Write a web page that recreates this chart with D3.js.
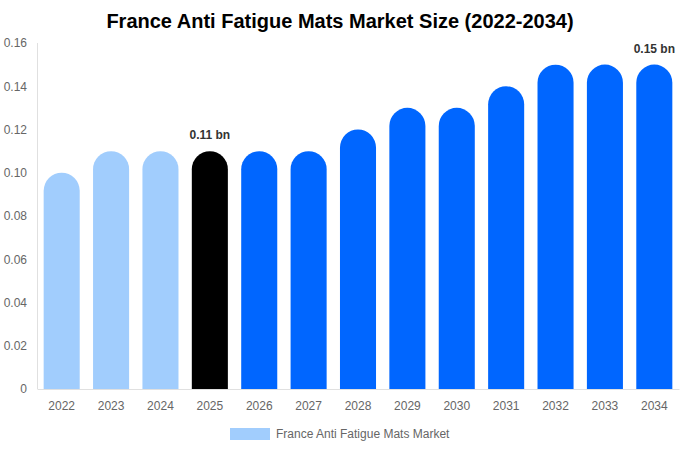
<!DOCTYPE html>
<html>
<head>
<meta charset="utf-8">
<script src="https://cdn.jsdelivr.net/npm/d3@7"></script>
<style>
  body { margin: 0; background: #fff; }
  svg { display: block; font-family: "Liberation Sans", Arial, sans-serif; }
</style>
</head>
<body>
<svg id="chart" width="680" height="450"></svg>
<script>
// chart data
const years = ['2022', '2023', '2024', '2025', '2026', '2027', '2028', '2029', '2030', '2031', '2032', '2033', '2034'];
const values = [0.10, 0.11, 0.11, 0.11, 0.11, 0.11, 0.12, 0.13, 0.13, 0.14, 0.15, 0.15, 0.15];
const yTicks = [0, 0.02, 0.04, 0.06, 0.08, 0.10, 0.12, 0.14, 0.16];
const labelled = { '2025': '0.11 bn', '2034': '0.15 bn' };
const seriesName = 'France Anti Fatigue Mats Market';

const margin = { top: 43, right: 1, bottom: 61, left: 37 };
const svg = d3.select('#chart');
const width = +svg.attr('width') - margin.left - margin.right;
const height = +svg.attr('height') - margin.top - margin.bottom;

// colour by period: history, current year, forecast
const colorFor = (y) => (+y < 2025 ? '#a1cdfd' : +y === 2025 ? '#000000' : '#0066ff');

const x = d3.scaleBand().domain(years).range([0, width]).paddingInner(0.27).paddingOuter(0.135);
const y = d3.scaleLinear().domain([0, 0.16]).range([height, 0]);

svg.append('text')
  .attr('x', 340)
  .attr('y', 28)
  .attr('text-anchor', 'middle')
  .attr('font-size', 20)
  .attr('font-weight', 'bold')
  .attr('fill', '#000')
  .text('France Anti Fatigue Mats Market Size (2022-2034)');

const chart = svg.append('g').attr('transform', `translate(${margin.left},${margin.top})`);

// y axis labels only, plus a thin left line
const yAxis = chart.append('g')
  .call(d3.axisLeft(y).tickValues(yTicks).tickSize(0).tickPadding(10)
    .tickFormat((d) => (d === 0 ? '0' : d3.format('.2f')(d))));
yAxis.select('.domain').remove();
yAxis.selectAll('text').attr('font-size', 12).attr('fill', '#666').attr('font-family', '"Liberation Sans", Arial, sans-serif');

chart.append('line')
  .attr('x1', 0.5).attr('x2', 0.5)
  .attr('y1', 0).attr('y2', height)
  .attr('stroke', '#e0e0e0');

const xAxis = chart.append('g')
  .attr('transform', `translate(0,${height})`)
  .call(d3.axisBottom(x).tickSize(0).tickPadding(12));
xAxis.select('.domain').attr('stroke', '#e0e0e0');
xAxis.selectAll('text').attr('font-size', 12).attr('fill', '#666').attr('font-family', '"Liberation Sans", Arial, sans-serif');

// bars with fully rounded tops
const bw = x.bandwidth();
const r = bw / 2;
chart.selectAll('path.bar')
  .data(years.map((yr, i) => ({ yr, v: values[i] })))
  .enter()
  .append('path')
  .attr('class', 'bar')
  .attr('fill', (d) => colorFor(d.yr))
  .attr('d', (d) => {
    const x0 = x(d.yr);
    const top = y(d.v);
    const base = y(0);
    return `M${x0},${base} V${top + r} A${r},${r} 0 0 1 ${x0 + bw},${top + r} V${base} Z`;
  });

chart.selectAll('text.val')
  .data(years.filter((yr) => labelled[yr]))
  .enter()
  .append('text')
  .attr('class', 'val')
  .attr('x', (d) => x(d) + bw / 2)
  .attr('y', (d) => y(values[years.indexOf(d)]) - 12)
  .attr('text-anchor', 'middle')
  .attr('font-size', 12)
  .attr('font-weight', 'bold')
  .attr('fill', '#333')
  .text((d) => labelled[d]);

// legend
const legend = svg.append('g').attr('transform', 'translate(230,428)');
legend.append('rect').attr('width', 40).attr('height', 12).attr('fill', '#a1cdfd');
legend.append('text')
  .attr('x', 46).attr('y', 10)
  .attr('font-size', 12)
  .attr('fill', '#666')
  .text(seriesName);
</script>
</body>
</html>
